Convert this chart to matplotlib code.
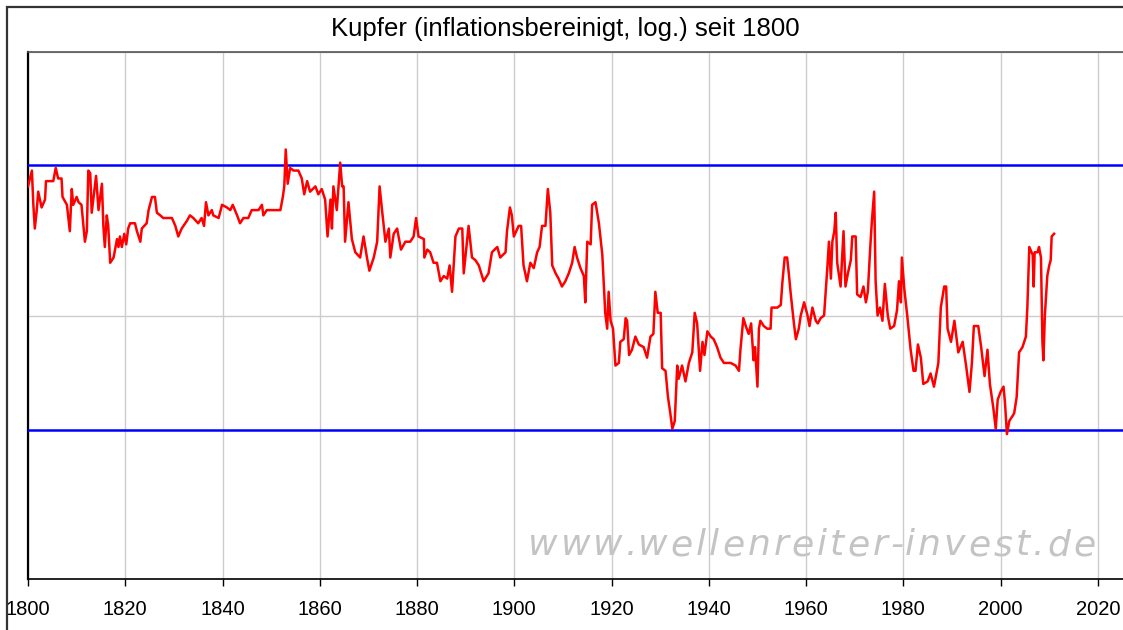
import matplotlib
matplotlib.use("Agg")
import matplotlib.pyplot as plt
from matplotlib.patches import Rectangle
from matplotlib.font_manager import FontProperties

# ---------------- data ----------------
title = "Kupfer (inflationsbereinigt, log.) seit 1800"
watermark = "www.wellenreiter-invest.de"
x_ticks = [1800, 1820, 1840, 1860, 1880, 1900, 1920, 1940, 1960, 1980, 2000, 2020]

# real copper price, log10 scale (arbitrary units)
years = [
    1800.0, 1800.8, 1801.1, 1801.4, 1801.8, 1802.1, 1802.8, 1803.5, 1803.7, 1805.2,
    1805.7, 1806.2, 1806.9, 1807.1, 1808.0, 1808.3, 1808.6, 1809.0, 1809.3, 1810.0,
    1810.4, 1811.0, 1811.4, 1811.7, 1812.1, 1812.4, 1812.8, 1813.1, 1814.0, 1814.5,
    1815.2, 1815.5, 1815.8, 1816.2, 1816.5, 1816.9, 1817.6, 1818.3, 1818.6, 1818.9,
    1819.3, 1819.8, 1820.2, 1820.6, 1821.0, 1822.0, 1822.4, 1823.1, 1823.4, 1824.4,
    1824.8, 1825.5, 1826.1, 1826.5, 1827.2, 1827.8, 1829.6, 1830.3, 1830.9, 1831.6,
    1832.7, 1833.3, 1834.0, 1835.0, 1835.7, 1836.2, 1836.6, 1837.1, 1837.8, 1838.1,
    1839.2, 1839.9, 1840.9, 1841.6, 1842.1, 1843.0, 1843.6, 1844.3, 1845.3, 1846.0,
    1847.4, 1848.1, 1848.4, 1849.1, 1851.9, 1852.4, 1852.7, 1853.0, 1853.4, 1853.9,
    1854.6, 1855.6, 1856.3, 1856.8, 1857.4, 1858.0, 1859.1, 1859.7, 1860.4, 1861.1,
    1861.6, 1862.2, 1862.5, 1862.8, 1863.5, 1864.2, 1864.6, 1864.9, 1865.2, 1865.9,
    1866.6, 1867.3, 1868.3, 1869.0, 1869.7, 1870.2, 1871.1, 1871.8, 1872.3, 1872.8,
    1873.5, 1874.2, 1874.5, 1875.2, 1875.9, 1876.7, 1877.6, 1878.6, 1879.3, 1879.8,
    1880.3, 1881.4, 1881.5, 1882.1, 1882.7, 1883.4, 1884.1, 1884.8, 1885.5, 1886.2,
    1886.7, 1887.2, 1887.9, 1888.6, 1889.3, 1889.6, 1890.6, 1891.3, 1892.0, 1892.7,
    1893.7, 1894.7, 1895.4, 1896.5, 1897.1, 1898.2, 1898.5, 1899.1, 1899.5, 1899.9,
    1900.9, 1901.4, 1901.9, 1902.6, 1903.3, 1904.0, 1904.7, 1905.2, 1905.7, 1906.4,
    1906.9, 1907.4, 1907.8, 1908.5, 1909.1, 1909.8, 1910.5, 1911.2, 1911.9, 1912.4,
    1912.9, 1913.6, 1914.3, 1914.6, 1915.0, 1915.7, 1916.0, 1916.7, 1917.4, 1918.1,
    1918.7, 1919.1, 1919.4, 1919.8, 1920.3, 1920.8, 1921.5, 1921.8, 1922.5, 1922.9,
    1923.2, 1923.6, 1924.2, 1924.9, 1925.6, 1926.6, 1927.3, 1928.0, 1928.6, 1929.0,
    1929.5, 1930.1, 1930.4, 1931.1, 1931.6, 1932.0, 1932.5, 1933.0, 1933.5, 1933.8,
    1934.5, 1935.2, 1935.9, 1936.6, 1937.1, 1937.6, 1938.2, 1938.7, 1939.1, 1939.7,
    1940.4, 1941.0, 1941.7, 1942.4, 1943.1, 1944.5, 1945.5, 1946.2, 1946.5, 1947.1,
    1947.6, 1948.2, 1948.7, 1949.2, 1949.5, 1950.0, 1950.3, 1950.6, 1951.3, 1952.0,
    1952.7, 1952.9, 1954.1, 1954.8, 1955.1, 1955.6, 1956.1, 1956.5, 1956.8, 1957.5,
    1957.9, 1958.5, 1958.9, 1959.6, 1960.3, 1960.7, 1961.3, 1962.0, 1962.4, 1963.0,
    1963.7, 1964.0, 1964.4, 1964.7, 1965.1, 1965.4, 1965.8, 1966.1, 1966.4, 1967.1,
    1967.7, 1968.1, 1968.6, 1969.2, 1969.5, 1970.2, 1970.5, 1971.2, 1971.8, 1972.3,
    1972.7, 1973.2, 1973.5, 1974.0, 1974.3, 1974.7, 1975.2, 1975.7, 1976.2, 1976.8,
    1977.3, 1978.1, 1978.7, 1979.1, 1979.5, 1979.7, 1980.2, 1980.8, 1981.5, 1982.1,
    1982.5, 1983.0, 1983.6, 1984.1, 1985.0, 1985.6, 1986.3, 1987.2, 1987.7, 1988.4,
    1988.8, 1989.1, 1989.8, 1990.5, 1991.3, 1992.2, 1992.9, 1993.6, 1994.1, 1994.5,
    1995.4, 1996.0, 1996.7, 1997.3, 1997.8, 1998.5, 1999.0, 1999.4, 2000.0, 2000.6,
    2000.9, 2001.3, 2001.8, 2002.5, 2002.8, 2003.3, 2003.8, 2004.5, 2005.2, 2005.5,
    2005.9, 2006.6, 2006.8, 2007.0, 2007.6, 2007.9, 2008.3, 2008.6, 2008.8, 2009.1,
    2009.6, 2010.0, 2010.3, 2010.5, 2011.0,
]
log_price = [
    2.49, 2.55, 2.42, 2.33, 2.40, 2.47, 2.41, 2.44, 2.51, 2.51,
    2.56, 2.52, 2.52, 2.45, 2.42, 2.37, 2.32, 2.48, 2.42, 2.45,
    2.43, 2.42, 2.34, 2.28, 2.32, 2.55, 2.54, 2.39, 2.53, 2.40,
    2.50, 2.34, 2.26, 2.38, 2.34, 2.20, 2.22, 2.29, 2.26, 2.30,
    2.26, 2.31, 2.27, 2.33, 2.35, 2.35, 2.32, 2.28, 2.33, 2.35,
    2.40, 2.45, 2.45, 2.39, 2.38, 2.37, 2.37, 2.34, 2.30, 2.33,
    2.36, 2.38, 2.37, 2.35, 2.37, 2.34, 2.43, 2.38, 2.40, 2.38,
    2.37, 2.42, 2.41, 2.40, 2.42, 2.38, 2.35, 2.37, 2.37, 2.40,
    2.40, 2.42, 2.38, 2.40, 2.40, 2.45, 2.49, 2.63, 2.50, 2.56,
    2.55, 2.55, 2.52, 2.46, 2.51, 2.47, 2.49, 2.46, 2.48, 2.44,
    2.30, 2.44, 2.33, 2.49, 2.40, 2.58, 2.49, 2.49, 2.28, 2.43,
    2.29, 2.24, 2.22, 2.30, 2.22, 2.17, 2.22, 2.28, 2.49, 2.40,
    2.28, 2.33, 2.22, 2.31, 2.33, 2.25, 2.28, 2.28, 2.30, 2.37,
    2.30, 2.29, 2.22, 2.25, 2.24, 2.20, 2.20, 2.13, 2.15, 2.14,
    2.19, 2.09, 2.30, 2.33, 2.33, 2.16, 2.34, 2.22, 2.21, 2.19,
    2.13, 2.16, 2.24, 2.26, 2.22, 2.24, 2.32, 2.41, 2.38, 2.30,
    2.34, 2.34, 2.19, 2.13, 2.20, 2.18, 2.24, 2.26, 2.34, 2.34,
    2.48, 2.39, 2.19, 2.16, 2.14, 2.11, 2.13, 2.16, 2.20, 2.26,
    2.22, 2.18, 2.15, 2.05, 2.28, 2.27, 2.42, 2.43, 2.35, 2.23,
    2.01, 1.95, 2.09, 1.98, 1.95, 1.81, 1.82, 1.90, 1.91, 1.99,
    1.98, 1.85, 1.87, 1.92, 1.89, 1.88, 1.84, 1.92, 1.93, 2.09,
    2.01, 2.01, 1.80, 1.79, 1.69, 1.64, 1.57, 1.60, 1.81, 1.76,
    1.81, 1.75, 1.82, 1.86, 2.01, 1.97, 1.79, 1.90, 1.85, 1.94,
    1.92, 1.91, 1.88, 1.84, 1.82, 1.82, 1.81, 1.79, 1.87, 1.99,
    1.96, 1.93, 1.97, 1.83, 1.88, 1.73, 1.95, 1.98, 1.96, 1.95,
    1.95, 2.03, 2.03, 2.04, 2.12, 2.22, 2.22, 2.15, 2.09, 1.97,
    1.91, 1.95, 2.00, 2.05, 2.00, 1.96, 2.03, 1.98, 1.97, 1.99,
    2.00, 2.08, 2.19, 2.28, 2.14, 2.28, 2.32, 2.39, 2.20, 2.11,
    2.32, 2.11, 2.16, 2.21, 2.30, 2.30, 2.08, 2.07, 2.11, 2.05,
    2.09, 2.26, 2.35, 2.47, 2.13, 2.00, 2.03, 1.98, 2.12, 2.00,
    1.95, 1.96, 2.02, 2.13, 2.05, 2.22, 2.10, 2.00, 1.87, 1.79,
    1.79, 1.89, 1.84, 1.74, 1.75, 1.78, 1.73, 1.82, 2.03, 2.11,
    2.11, 1.95, 1.90, 1.98, 1.86, 1.90, 1.81, 1.71, 1.82, 1.96,
    1.96, 1.88, 1.77, 1.87, 1.74, 1.65, 1.57, 1.68, 1.71, 1.73,
    1.67, 1.55, 1.60, 1.62, 1.63, 1.69, 1.86, 1.88, 1.92, 2.03,
    2.26, 2.23, 2.11, 2.24, 2.24, 2.26, 2.22, 1.90, 1.83, 2.00,
    2.15, 2.19, 2.21, 2.30, 2.31,
]
upper_band = 2.571
lower_band = 1.566
y_grid = [1.0, 2.0, 3.0]

# ---------------- figure ----------------
W, H = 1123, 630
fig = plt.figure(figsize=(W / 100, H / 100), dpi=100)
fig.patch.set_facecolor("white")

# outer frame
fig.patches.append(Rectangle((7 / W, -0.5), 2.0, 1.5 - 7 / H, transform=fig.transFigure,
                             fill=False, edgecolor="#333333", linewidth=1.6, zorder=0))

ax = fig.add_axes([28 / W, 51 / H, 1.0 - 28 / W + 0.001, 527 / H])
ax.set_xlim(1800, 2025.4)
ax.set_ylim(1.0, 3.0)

ax.set_xticks(x_ticks)
ax.set_xticklabels([str(t) for t in x_ticks])
ax.set_yticks(y_grid)
ax.set_yticklabels([])
ax.tick_params(axis="y", length=0)
ax.tick_params(axis="x", direction="out", length=5, width=1, color="black",
               labelsize=14.5, pad=10)
for lab in ax.get_xticklabels():
    lab.set_fontfamily("Liberation Sans")

ax.grid(True, color="#cccccc", linewidth=1.0)
ax.set_axisbelow(True)

ax.spines["right"].set_visible(False)
ax.spines["left"].set_color("black")
ax.spines["left"].set_linewidth(1.6)
ax.spines["bottom"].set_color("black")
ax.spines["bottom"].set_linewidth(1.2)
ax.spines["top"].set_color("#555555")
ax.spines["top"].set_linewidth(1.2)

ax.axhline(upper_band, color="#0000ff", linewidth=1.8, zorder=3)
ax.axhline(lower_band, color="#0000ff", linewidth=1.8, zorder=3)
ax.plot(years, log_price, color="#ff0000", linewidth=1.8, zorder=4)

fig.text(565 / W, 1 - 29 / H, title, ha="center", va="center",
         fontsize=18.5, family="Liberation Sans", color="black")

# watermark with letter spacing
fp = FontProperties(family="DejaVu Sans", style="oblique", size=26)
renderer = fig.canvas.get_renderer()
tracking = 3.1
x0 = 528.0
base_y = 555.0
for i, ch in enumerate(watermark):
    prefix = watermark[:i]
    if prefix:
        w, _, _ = renderer.get_text_width_height_descent(prefix, fp, ismath=False)
    else:
        w = 0.0
    fig.text((x0 + w + i * tracking) / W, 1 - base_y / H, ch, fontproperties=fp,
             color="#c4c4c4", ha="left", va="baseline", zorder=5)

fig.savefig("out.png", dpi=100)
